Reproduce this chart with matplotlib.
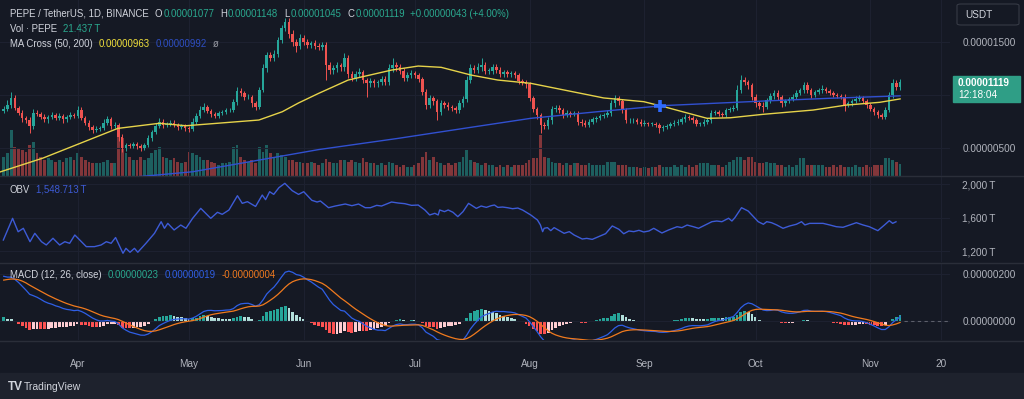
import numpy as np
import matplotlib.pyplot as plt
from matplotlib.patches import Rectangle, FancyBboxPatch

plt.rcParams['font.family'] = ['Liberation Sans', 'DejaVu Sans']

# PEPE/USDT daily candles, 12 Mar .. 9 Nov 2024, prices in 1e-6 USDT
first_open = 8.5
closes = [
    8.7, 9.1, 9.7, 8.8, 8.3, 7.8, 7.6, 7.1, 8.3, 8.2,
    7.9, 7.7, 7.9, 8.1, 7.8, 8.0, 7.7, 7.9, 8.1, 8.0,
    8.6, 7.8, 7.4, 7.0, 6.7, 6.8, 6.9, 7.4, 7.7, 7.1,
    7.2, 6.0, 5.0, 5.3, 5.2, 5.4, 5.2, 5.0, 5.3, 5.9,
    6.5, 7.1, 7.5, 7.2, 7.3, 7.4, 7.2, 7.0, 7.1, 6.9,
    6.8, 7.5, 8.0, 8.6, 8.9, 8.5, 8.2, 8.0, 8.3, 8.4,
    8.6, 8.6, 9.3, 10.4, 10.2, 9.8, 9.8, 9.2, 8.9, 10.5,
    12.5, 13.8, 13.5, 13.9, 15.2, 16.3, 16.9, 15.8, 15.0, 14.6,
    15.4, 15.0, 14.7, 14.9, 14.6, 14.5, 14.7, 12.8, 12.4, 12.5,
    12.8, 12.6, 13.5, 12.0, 11.6, 12.0, 12.2, 11.4, 11.1, 11.3,
    11.1, 11.2, 11.5, 11.2, 12.5, 12.8, 12.6, 12.3, 11.6, 11.9,
    12.1, 11.9, 11.5, 10.3, 9.05, 9.7, 9.4, 8.4, 9.2, 9.1,
    8.9, 8.8, 8.6, 9.2, 9.6, 11.4, 12.5, 12.4, 12.6, 12.8,
    12.3, 12.3, 12.6, 12.4, 12.0, 12.2, 12.0, 12.1, 11.9, 11.3,
    11.2, 11.0, 9.7, 8.7, 8.1, 7.2, 7.1, 7.6, 8.7, 8.8,
    8.6, 8.1, 8.3, 8.2, 8.3, 7.5, 7.4, 7.2, 7.5, 7.7,
    7.8, 8.0, 8.1, 8.3, 9.2, 9.7, 9.4, 8.6, 7.6, 7.6,
    7.6, 7.5, 7.3, 7.4, 7.3, 7.3, 7.2, 6.85, 7.0, 7.1,
    7.3, 7.4, 7.5, 7.7, 7.95, 7.8, 7.6, 7.3, 7.3, 7.5,
    7.6, 8.3, 8.4, 8.2, 8.1, 8.6, 8.7, 8.8, 10.5, 11.4,
    11.2, 10.9, 9.85, 9.2, 9.0, 8.9, 9.5, 9.9, 10.2, 9.8,
    9.2, 9.4, 9.6, 9.85, 10.2, 10.5, 10.9, 10.5, 10.0, 10.3,
    10.5, 10.6, 10.4, 10.2, 10.0, 9.9, 9.85, 9.05, 9.2, 9.4,
    9.6, 9.7, 9.4, 9.05, 8.7, 8.4, 8.1, 7.95, 8.6, 10.0,
    11.1, 10.77, 11.19,
]
upper_wick = [
    0.3, 0.4, 0.6, 0.3, 0.2, 0.3, 0.2, 0.3, 0.4, 0.3,
    0.2, 0.3, 0.2, 0.3, 0.2, 0.3, 0.2, 0.2, 0.3, 0.2,
    0.4, 0.3, 0.2, 0.2, 0.2, 0.3, 0.2, 0.3, 0.3, 0.2,
    0.3, 0.2, 0.3, 0.2, 0.2, 0.2, 0.2, 0.2, 0.2, 0.3,
    0.2, 0.3, 0.3, 0.2, 0.2, 0.2, 0.2, 0.2, 0.2, 0.2,
    0.2, 0.3, 0.3, 0.4, 0.3, 0.2, 0.2, 0.2, 0.2, 0.2,
    0.2, 0.2, 0.3, 0.4, 0.3, 0.2, 0.3, 0.2, 0.2, 0.3,
    0.4, 0.3, 0.3, 0.3, 0.3, 0.3, 0.4, 0.4, 0.3, 0.3,
    0.4, 0.3, 0.3, 0.2, 0.3, 0.3, 0.3, 0.3, 0.3, 0.3,
    0.3, 0.2, 0.5, 0.3, 0.3, 0.3, 0.3, 0.2, 0.2, 0.3,
    0.2, 0.2, 0.3, 0.3, 0.4, 0.7, 0.3, 0.3, 0.2, 0.3,
    0.3, 0.2, 0.2, 0.2, 0.3, 0.3, 0.2, 0.2, 0.3, 0.2,
    0.2, 0.2, 0.2, 0.3, 0.3, 0.4, 0.4, 0.3, 0.4, 0.7,
    0.3, 0.2, 0.3, 0.3, 0.2, 0.2, 0.2, 0.2, 0.2, 0.2,
    0.2, 0.2, 0.2, 0.2, 0.2, 0.2, 0.3, 0.3, 0.3, 0.3,
    0.3, 0.2, 0.3, 0.2, 0.2, 0.2, 0.2, 0.2, 0.2, 0.2,
    0.2, 0.2, 0.2, 0.3, 0.3, 0.3, 0.2, 0.2, 0.2, 0.2,
    0.2, 0.2, 0.2, 0.2, 0.1, 0.2, 0.2, 0.2, 0.2, 0.2,
    0.2, 0.2, 0.2, 0.2, 0.3, 0.2, 0.2, 0.2, 0.2, 0.2,
    0.2, 0.3, 0.2, 0.2, 0.2, 0.2, 0.2, 0.3, 0.4, 0.5,
    0.3, 0.2, 0.2, 0.2, 0.2, 0.3, 0.2, 0.3, 0.3, 0.3,
    0.2, 0.2, 0.2, 0.2, 0.3, 0.2, 0.3, 0.3, 0.2, 0.2,
    0.2, 0.3, 0.2, 0.2, 0.2, 0.2, 0.2, 0.2, 0.2, 0.2,
    0.3, 0.3, 0.2, 0.2, 0.2, 0.2, 0.2, 0.2, 0.3, 0.3,
    0.4, 0.3, 0.29,
]
lower_wick = [
    0.2, 0.2, 0.3, 0.2, 0.2, 0.3, 0.2, 0.7, 0.3, 0.2,
    0.2, 0.2, 0.3, 0.2, 0.2, 0.2, 0.3, 0.2, 0.2, 0.2,
    0.2, 0.2, 0.2, 0.3, 0.3, 0.2, 0.2, 0.2, 0.2, 0.3,
    0.2, 0.3, 0.4, 0.3, 0.2, 0.2, 0.3, 0.3, 0.2, 0.2,
    0.2, 0.2, 0.2, 0.3, 0.2, 0.2, 0.2, 0.3, 0.2, 0.3,
    0.3, 0.2, 0.2, 0.2, 0.2, 0.2, 0.3, 0.2, 0.2, 0.2,
    0.2, 0.2, 0.2, 0.2, 0.3, 0.3, 0.2, 0.3, 0.3, 0.2,
    0.2, 0.3, 0.3, 0.3, 0.3, 0.3, 0.3, 0.4, 0.4, 0.5,
    0.3, 0.3, 0.3, 0.3, 0.3, 0.3, 0.3, 1.4, 0.4, 0.4,
    0.3, 0.3, 0.3, 0.4, 0.3, 0.3, 0.3, 0.3, 1.3, 0.3,
    0.3, 0.3, 0.3, 0.3, 0.3, 0.3, 0.3, 0.3, 0.3, 0.3,
    0.3, 0.3, 0.3, 0.3, 0.4, 0.3, 0.3, 0.8, 0.3, 0.3,
    0.3, 0.3, 0.3, 0.3, 0.3, 0.3, 0.3, 0.3, 0.3, 0.3,
    0.3, 0.3, 0.3, 0.3, 0.3, 0.3, 0.3, 0.3, 0.3, 0.3,
    0.3, 0.3, 0.3, 0.3, 0.4, 0.8, 0.3, 0.3, 0.3, 0.3,
    0.3, 0.3, 0.2, 0.3, 0.2, 0.3, 0.3, 0.2, 0.2, 0.2,
    0.2, 0.2, 0.2, 0.2, 0.3, 0.3, 0.3, 0.3, 0.2, 0.2,
    0.2, 0.2, 0.2, 0.2, 0.2, 0.2, 0.2, 0.45, 0.2, 0.2,
    0.2, 0.2, 0.2, 0.2, 0.2, 0.2, 0.2, 0.2, 0.2, 0.2,
    0.2, 0.2, 0.2, 0.2, 0.2, 0.2, 0.2, 0.2, 0.2, 0.3,
    0.3, 0.3, 0.3, 0.3, 0.3, 0.5, 0.2, 0.3, 0.3, 0.3,
    0.3, 0.2, 0.2, 0.2, 0.2, 0.2, 0.3, 0.3, 0.3, 0.2,
    0.2, 0.3, 0.2, 0.2, 0.2, 0.2, 0.2, 0.6, 0.2, 0.2,
    0.2, 0.2, 0.2, 0.3, 0.2, 0.3, 0.3, 0.25, 0.2, 0.2,
    0.3, 0.3, 0.32,
]
# volume in trillions of PEPE
volume_t = [
    35, 41, 83, 53, 50, 47, 44, 56, 62, 41,
    35, 29, 32, 29, 26, 29, 26, 32, 35, 29,
    41, 35, 29, 26, 23, 23, 23, 26, 29, 23,
    23, 80, 68, 41, 35, 29, 29, 35, 29, 32,
    41, 47, 53, 35, 32, 29, 32, 26, 23, 26,
    44, 41, 38, 35, 29, 29, 26, 23, 20, 23,
    23, 26, 53, 56, 35, 29, 26, 29, 23, 53,
    44, 56, 41, 35, 41, 38, 35, 29, 29, 26,
    26, 23, 23, 26, 23, 20, 23, 30, 26, 23,
    23, 29, 29, 26, 29, 26, 23, 32, 26, 23,
    23, 20, 23, 20, 26, 23, 20, 17, 20, 17,
    17, 20, 23, 35, 44, 29, 35, 26, 23, 20,
    23, 20, 23, 26, 35, 47, 29, 26, 23, 20,
    23, 20, 20, 17, 20, 17, 20, 17, 20, 20,
    20, 23, 29, 32, 32, 74, 35, 32, 26, 23,
    23, 20, 23, 20, 23, 23, 20, 20, 23, 20,
    20, 20, 20, 26, 26, 26, 20, 20, 20, 17,
    17, 17, 14, 17, 14, 17, 17, 20, 17, 17,
    17, 20, 17, 20, 17, 20, 17, 20, 23, 23,
    23, 20, 20, 20, 17, 20, 26, 29, 35, 35,
    29, 35, 35, 26, 23, 23, 26, 23, 23, 20,
    20, 17, 20, 17, 20, 32, 32, 20, 20, 20,
    20, 20, 17, 17, 20, 17, 20, 17, 17, 17,
    20, 17, 17, 20, 17, 20, 20, 20, 32, 32,
    29, 26, 21.437,
]

# moving averages (day index, value 1e-6)
ma50_days = [0, 11.6, 31.8, 43, 50.2, 69.9, 76.2, 80.6, 86, 94, 105.7, 112.9, 119.1,
             127.2, 134.4, 143.3, 152.3, 163, 173.8, 179.2, 190.9, 197.1, 206.1,
             219.5, 228.5, 237.5, 243]
ma50_vals = [2.74, 4.05, 6.85, 7.33, 7.1, 7.64, 8.42, 9.25, 10.15, 11.41, 12.35, 12.73,
             12.61, 11.88, 11.41, 11.1, 10.47, 9.72, 9.37, 8.9, 7.8, 7.85, 8.18,
             8.58, 9.05, 9.31, 9.63]
ma200_days = [0, 25, 52, 86, 107.5, 125.4, 143.3, 161.2, 179.2, 206.1, 224, 243]
ma200_vals = [1.0, 1.9, 2.76, 4.85, 5.91, 6.86, 7.8, 8.42, 9.0, 9.43, 9.69, 9.92]

# on balance volume (day index, T)
obv_days = [0.9, 3.4, 4.9, 6.3, 8.1, 9.4, 11.2, 12.5, 14.3, 16.1, 17.5, 18.8, 20.2, 22,
            23.3, 25.5, 27.3, 28.7, 30, 31.2, 33.2, 34, 35.1, 36.3, 37.2, 39.4, 41.7,
            43.5, 44.4, 45.3, 47, 48.8, 50.2, 52, 54.2, 56.9, 58.7, 60, 61.8, 64.1,
            65.4, 66.8, 69, 70.8, 71.7, 72.8, 73.9, 75.3, 76.9, 78.9, 80.6, 82, 84.2,
            85.6, 86.5, 88.7, 90.5, 93.2, 95, 96.8, 98.6, 100, 101.7, 103, 105.7,
            107.5, 109.3, 111.1, 112.9, 114.7, 116, 117.4, 118.3, 118.7, 120, 121,
            122.3, 123.6, 125, 126.5, 128.6, 129.9, 131.3, 132.6, 133.5, 134.4,
            135.7, 137, 138.4, 139.8, 141.1, 143.3, 145.1, 145.9, 146.5, 146.9,
            147.8, 148.7, 149.6, 151, 152.3, 153.7, 155, 157.2, 158.4, 159.9, 162.2,
            163.5, 165.3, 167.1, 168.4, 169.8, 171.1, 172.5, 173.8, 175.2, 176.5,
            178.7, 180.5, 182.8, 184.1, 185.5, 187.2, 188.6, 190.4, 192.2, 193.5,
            194.9, 196.7, 197.6, 198.4, 200.2, 202, 204.7, 206.1, 207, 208.3, 209.7,
            211.4, 213.2, 215, 216.4, 217.3, 218.6, 220.4, 222.2, 224, 225.8, 227.6,
            229.4, 231.2, 233, 234.7, 237, 238.8, 240.1, 241, 241.9]
obv_vals = [1331, 1590, 1430, 1471, 1311, 1411, 1311, 1272, 1352, 1272, 1311, 1292, 1391,
            1311, 1252, 1252, 1272, 1311, 1292, 1361, 1173, 1232, 1185, 1232, 1185, 1292,
            1411, 1550, 1471, 1530, 1451, 1510, 1471, 1590, 1709, 1590, 1662, 1638, 1689,
            1860, 1769, 1789, 1732, 1868, 1813, 1908, 1876, 1956, 2008, 1920, 1876, 1908,
            1805, 1785, 1797, 1717, 1737, 1761, 1741, 1761, 1717, 1717, 1745, 1737, 1785,
            1773, 1765, 1745, 1749, 1690, 1630, 1650, 1630, 1690, 1670, 1690, 1662, 1610,
            1670, 1769, 1709, 1737, 1721, 1741, 1749, 1721, 1725, 1717, 1705, 1713, 1689,
            1630, 1570, 1511, 1431, 1471, 1479, 1443, 1479, 1443, 1411, 1431, 1391, 1343,
            1351, 1339, 1383, 1407, 1499, 1459, 1406, 1439, 1431, 1447, 1427, 1439, 1471,
            1415, 1451, 1490, 1479, 1510, 1490, 1471, 1510, 1550, 1558, 1550, 1591, 1558,
            1598, 1717, 1677, 1550, 1519, 1550, 1538, 1511, 1471, 1499, 1519, 1550, 1511,
            1530, 1530, 1530, 1511, 1490, 1483, 1511, 1538, 1511, 1490, 1443, 1511, 1562,
            1530, 1549]

# MACD state at the left edge of the chart (1e-6)
ema_fast_start = 7.6
macd_start = 1.96
signal_start = 1.7

month_days = [21, 51, 82, 112, 143, 174, 204, 235, 254]
month_labels = ['Apr', 'May', 'Jun', 'Jul', 'Aug', 'Sep', 'Oct', 'Nov', '20']

BG = '#151924'
GRID = '#1d2130'
TXT = '#b2b5be'
LEG = '#d1d4dc'
UP = '#26a69a'
DOWN = '#ef5350'
TEAL = '#2aa98f'
W, H = 1024, 399
PLOT_R = 950
PX_DAY = 3.704

closes = np.array(closes)
days = np.arange(1, len(closes) + 1)
opens = np.concatenate([[first_open], closes[:-1]])
highs = np.maximum(opens, closes) + np.array(upper_wick)
lows = np.minimum(opens, closes) - np.array(lower_wick)
up = closes >= opens

# MACD 12/26/9
a_f, a_s, a_g = 2 / 13, 2 / 27, 2 / 10
ema_f = ema_fast_start
ema_s = ema_fast_start - macd_start
sig = signal_start
macd, signal = [], []
for c in closes:
    ema_f += a_f * (c - ema_f)
    ema_s += a_s * (c - ema_s)
    m = ema_f - ema_s
    sig += a_g * (m - sig)
    macd.append(m)
    signal.append(sig)
macd = np.array(macd)
signal = np.array(signal)
hist = macd - signal
prev = np.concatenate([[hist[0]], hist[:-1]])
hist_col = np.where(hist >= 0, np.where(hist >= prev, '#26a69a', '#b2dfdb'),
                    np.where(hist > prev, '#ffcdd2', '#ff5252'))

fig = plt.figure(figsize=(W / 100, H / 100), dpi=100, facecolor=BG)


def pane(top, bottom):
    a = fig.add_axes([0, 1 - bottom / H, PLOT_R / W, (bottom - top) / H])
    a.set_facecolor(BG)
    a.set_xlim(0, PLOT_R / PX_DAY)
    a.set_xticks(month_days)
    a.grid(True, color=GRID, linewidth=0.8)
    for s in a.spines.values():
        s.set_visible(False)
    return a


def right_labels(a):
    a.yaxis.tick_right()
    a.tick_params(length=0, labelcolor=TXT, labelsize=7.2, pad=9)
    a.tick_params(axis='x', labelbottom=False)


ax = pane(0, 176)
ax_obv = pane(177, 262)
ax_macd = pane(263, 340)

# volume behind the candles
ax_vol = ax.twinx()
ax_vol.set_zorder(1)
ax_vol.set_facecolor(BG)
ax_vol.set_ylim(0, 176 * 1.8)
ax_vol.yaxis.set_visible(False)
for s in ax_vol.spines.values():
    s.set_visible(False)
ax_vol.bar(days, volume_t, width=0.75, color=np.where(up, UP, DOWN), alpha=0.5,
           linewidth=0)

# main pane
ax.set_zorder(2)
ax.patch.set_visible(False)
ax.set_ylim(2.36, 18.96)
ax.set_yticks([5, 10, 15])
ax.set_yticklabels(['0.00000500', '', '0.00001500'])
right_labels(ax)
right_labels(ax_obv)
right_labels(ax_macd)

cols = np.where(up, UP, DOWN)
ax.vlines(days, lows, highs, colors=cols, linewidth=0.7, zorder=3)
ax.bar(days, np.maximum(np.abs(closes - opens), 0.03), bottom=np.minimum(opens, closes),
       width=0.68, color=cols, linewidth=0, zorder=4)
ax.plot(ma200_days, ma200_vals, color='#3150d0', linewidth=1.0, zorder=5)
ax.plot(ma50_days, ma50_vals, color='#e6d34a', linewidth=1.0, zorder=5)

grid_days = np.arange(0, 243.01, 0.1)
diff = np.interp(grid_days, ma50_days, ma50_vals) - np.interp(grid_days, ma200_days, ma200_vals)
cross_i = np.where(np.diff(np.sign(diff)) != 0)[0][-1]
ax.plot(grid_days[cross_i], np.interp(grid_days[cross_i], ma200_days, ma200_vals), '+',
        color='#2f6bff', markersize=9, markeredgewidth=2.6, zorder=6)

# OBV pane
ax_obv.set_ylim(1068.7, 2083.6)
ax_obv.set_yticks([1200, 1600, 2000])
ax_obv.set_yticklabels(['1,200\u2009T', '1,600\u2009T', '2,000\u2009T'])
ax_obv.plot(obv_days, obv_vals, color='#3d5bd6', linewidth=1.0)

# MACD pane
ax_macd.set_ylim(-0.808, 2.468)
ax_macd.set_yticks([0, 2])
ax_macd.set_yticklabels(['0.00000000', '0.00000200'])
ax_macd.bar(days, hist, width=0.75, color=hist_col, linewidth=0)
ax_macd.plot(days, macd, color='#2f5fe6', linewidth=0.9)
ax_macd.plot(days, signal, color='#f07a1e', linewidth=0.9)
ax_macd.plot([days[-1] + 1, PLOT_R / PX_DAY], [0, 0], color='#5d606b', linewidth=0.8,
             linestyle=(0, (3, 3)))
ax_macd.tick_params(axis='x', labelbottom=True, labelsize=7.2, pad=14)
ax_macd.set_xticklabels(month_labels)

# pane separators and bottom bar
for yy in (176.5, 262.5, 340.5):
    fig.add_artist(plt.Line2D([0, 1], [1 - yy / H] * 2, color='#2a2e39', linewidth=1.0))
fig.add_artist(Rectangle((0, 0), 1, 26 / H, transform=fig.transFigure, color='#1e222d',
                         zorder=1))

renderer = fig.canvas.get_renderer()


def ftext(x, y, s, color=TXT, size=6.9, weight='normal'):
    return fig.text(x / W, 1 - y / H, s, color=color, fontsize=size, weight=weight,
                    ha='left', va='center')


def text_row(y, parts, x=10):
    # lay the legend pieces out one after another
    for s, color, gap in parts:
        t = ftext(x, y, s, color=color)
        x += t.get_window_extent(renderer=renderer).width + gap


text_row(14, [('PEPE / TetherUS, 1D, BINANCE', LEG, 6), ('O', LEG, 1),
              ('0.00001077', TEAL, 6), ('H', LEG, 1), ('0.00001148', TEAL, 6),
              ('L', LEG, 1), ('0.00001045', TEAL, 6), ('C', LEG, 1),
              ('0.00001119', TEAL, 5), ('+0.00000043 (+4.00%)', TEAL, 0)])
text_row(29, [('Vol \u00b7 PEPE', LEG, 6), ('21.437\u2009T', TEAL, 0)])
text_row(44, [('MA Cross (50, 200)', LEG, 6), ('0.00000963', '#f2e23c', 6),
              ('0.00000992', '#2e4fc4', 6), ('\u00f8', '#9598a1', 0)])
text_row(190, [('OBV', LEG, 6), ('1,548.713\u2009T', '#3d5bd6', 0)])
text_row(275, [('MACD (12, 26, close)', LEG, 6), ('0.00000023', TEAL, 6),
               ('0.00000019', '#2f5fe6', 6), ('-0.00000004', '#f07a1e', 0)])

# right-hand price scale boxes
fig.add_artist(FancyBboxPatch((957 / W, 1 - 25 / H), 62 / W, 21 / H,
                              boxstyle='round,pad=0,rounding_size=0.004',
                              transform=fig.transFigure, facecolor=BG,
                              edgecolor='#363a45', linewidth=0.8))
ftext(965, 14.5, 'USDT', color=LEG, size=7.2)
fig.add_artist(Rectangle((953 / W, 1 - 102 / H), 67 / W, 26 / H,
                         transform=fig.transFigure, color='#2f9e86', zorder=3))
ftext(958, 83, '0.00001119', color='white', size=7.2, weight='bold')
ftext(958, 95, '12:18:04', color='white', size=7.2)

ftext(8, 387, 'TV', color=LEG, size=8.5, weight='bold')
ftext(24, 387, 'TradingView', color=LEG, size=7.5)

fig.savefig('out.png', dpi=100, facecolor=BG)
